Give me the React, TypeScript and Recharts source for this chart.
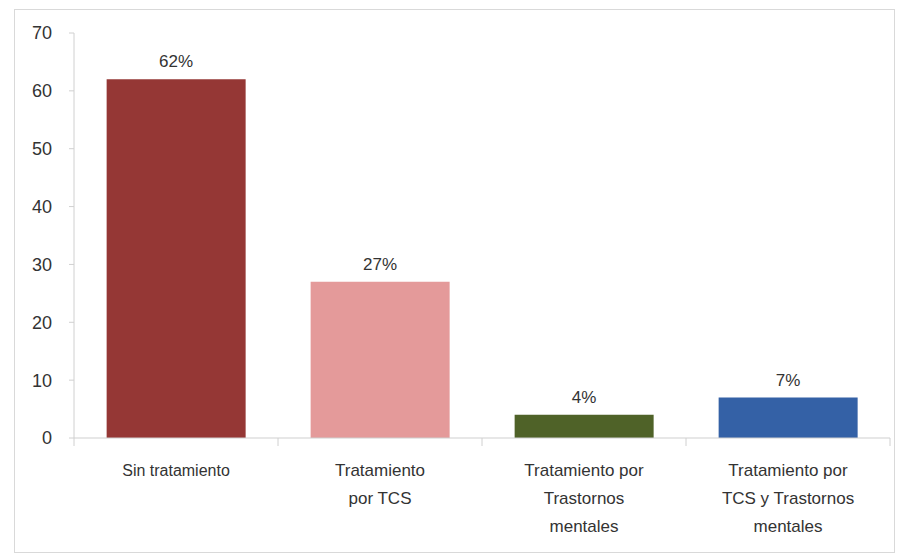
import { Bar, BarChart, Cell, LabelList, XAxis, YAxis } from 'recharts';

const categories = [
  'Sin tratamiento',
  'Tratamiento por TCS',
  'Tratamiento por Trastornos mentales',
  'Tratamiento por TCS y Trastornos mentales',
];
const categoryLines = [
  ['Sin tratamiento'],
  ['Tratamiento', 'por TCS'],
  ['Tratamiento por', 'Trastornos', 'mentales'],
  ['Tratamiento por', 'TCS y Trastornos', 'mentales'],
];
const values = [62, 27, 4, 7];
const yTicks = [0, 10, 20, 30, 40, 50, 60, 70];

const COLORS = ['#953735', '#E49A9A', '#4F6228', '#3461A6'];
const FONT = '"Liberation Sans", Arial, sans-serif';

const data = categories.map((name, i) => ({ name, value: values[i], idx: i }));

function CategoryTick({ x, y, payload }: any) {
  const lines = categoryLines[payload.index] ?? [payload.value];
  const first = payload.index === 0;
  const half = payload.offset ?? 0;
  const last = payload.index === categories.length - 1;
  return (
    <g transform={`translate(${x},${y})`}>
      <line x1={-half} x2={-half} y1={0} y2={8} stroke="#d0d0d0" />
      {last && <line x1={half} x2={half} y1={0} y2={8} stroke="#d0d0d0" />}
      {lines.map((line, i) => (
        <text
          key={i}
          x={0}
          y={i * 28}
          dy={38}
          textAnchor="middle"
          fill="#333"
          fontSize={first ? 16 : 17}
          fontFamily={FONT}
        >
          {line}
        </text>
      ))}
    </g>
  );
}

export default function App() {
  return (
    <div
      style={{
        position: 'absolute',
        left: 14,
        top: 9,
        width: 879,
        height: 542,
        border: '1px solid #d9d9d9',
        background: '#fff',
      }}
    >
      <BarChart
        width={879}
        height={542}
        data={data}
        margin={{ top: 23, right: 4, bottom: 0, left: 14 }}
        barCategoryGap="16%"
      >
        <XAxis
          dataKey="name"
          axisLine={{ stroke: '#cfcfcf' }}
          tickLine={false}
          tickSize={0}
          tickMargin={0}
          tick={<CategoryTick />}
          interval={0}
          height={114}
        />
        <YAxis
          domain={[0, 70]}
          ticks={yTicks}
          axisLine={{ stroke: '#d0d0d0' }}
          tickLine={{ stroke: '#d0d0d0' }}
          tickSize={5}
          tickMargin={17}
          width={45}
          tick={{ fill: '#333', fontSize: 18, fontFamily: FONT }}
        />
        <Bar dataKey="value" isAnimationActive={false}>
          {data.map((d) => (
            <Cell key={d.name} fill={COLORS[d.idx]} />
          ))}
          <LabelList
            dataKey="value"
            position="top"
            offset={12}
            formatter={(v: any) => `${v}%`}
            style={{ fill: '#333', fontSize: 17, fontFamily: FONT }}
          />
        </Bar>
      </BarChart>
    </div>
  );
}
